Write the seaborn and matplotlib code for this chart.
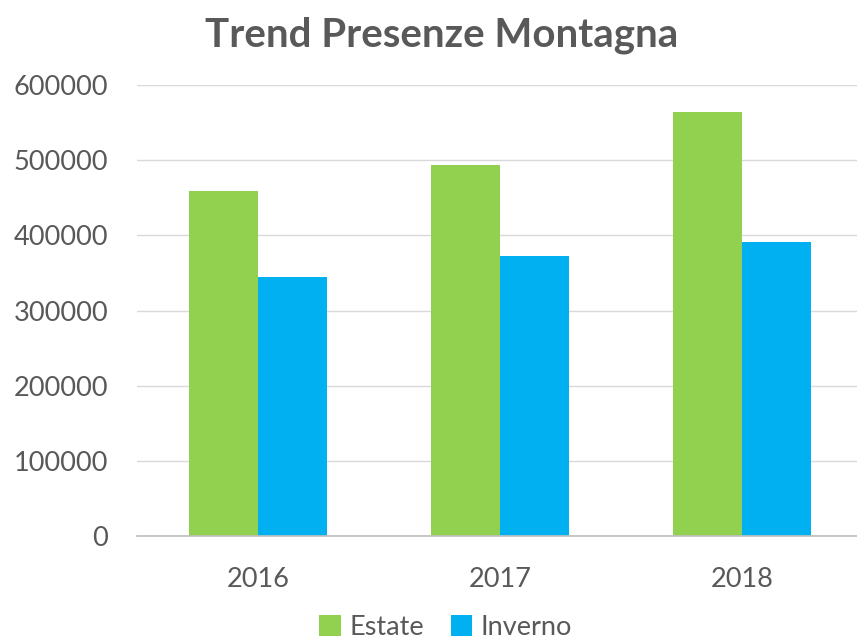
import pandas as pd
import matplotlib.pyplot as plt
import seaborn as sns

# Data
anni = ['2016', '2017', '2018']
estate = [459000, 493500, 564500]
inverno = [345000, 372800, 390600]

df = pd.DataFrame({
    'Anno': anni * 2,
    'Stagione': ['Estate'] * 3 + ['Inverno'] * 3,
    'Presenze': estate + inverno,
})

sns.set_theme(style='white')
plt.rcParams['font.family'] = ['Lato', 'DejaVu Sans']
text_color = '#595959'

fig = plt.figure(figsize=(8.57, 6.4), dpi=100)
ax = fig.add_axes([0.16, 0.1625, 0.847, 0.7045])

sns.barplot(data=df, x='Anno', y='Presenze', hue='Stagione',
            palette={'Estate': '#92D050', 'Inverno': '#00B0F0'},
            width=0.57, saturation=1, linewidth=0, ax=ax, legend=True)

ax.set_ylim(0, 600000)
ax.set_yticks(range(0, 600001, 100000))
ax.set_yticklabels([str(v) for v in range(0, 600001, 100000)])
ax.grid(axis='y', color='#D9D9D9', linewidth=1)
ax.set_axisbelow(True)
for s in ['top', 'right', 'left']:
    ax.spines[s].set_visible(False)
ax.spines['bottom'].set_color('#BFBFBF')
ax.tick_params(axis='both', length=0, labelsize=19.5, colors=text_color)
ax.tick_params(axis='y', pad=21)
ax.tick_params(axis='x', pad=22)
ax.set_xlabel('')
ax.set_ylabel('')

fig.suptitle('Trend Presenze Montagna', x=0.515, y=0.975, fontsize=29,
             fontweight='bold', color=text_color)

ax.legend_.remove()
handles, labels = ax.get_legend_handles_labels()
fig.legend(handles[:2], labels[:2], loc='center', bbox_to_anchor=(0.52, 0.02),
           ncol=2, frameon=False, fontsize=19.5, labelcolor=text_color,
           handlelength=0.8, handleheight=0.8, handletextpad=0.3, columnspacing=1.0)

fig.savefig('out.png', dpi=100)
